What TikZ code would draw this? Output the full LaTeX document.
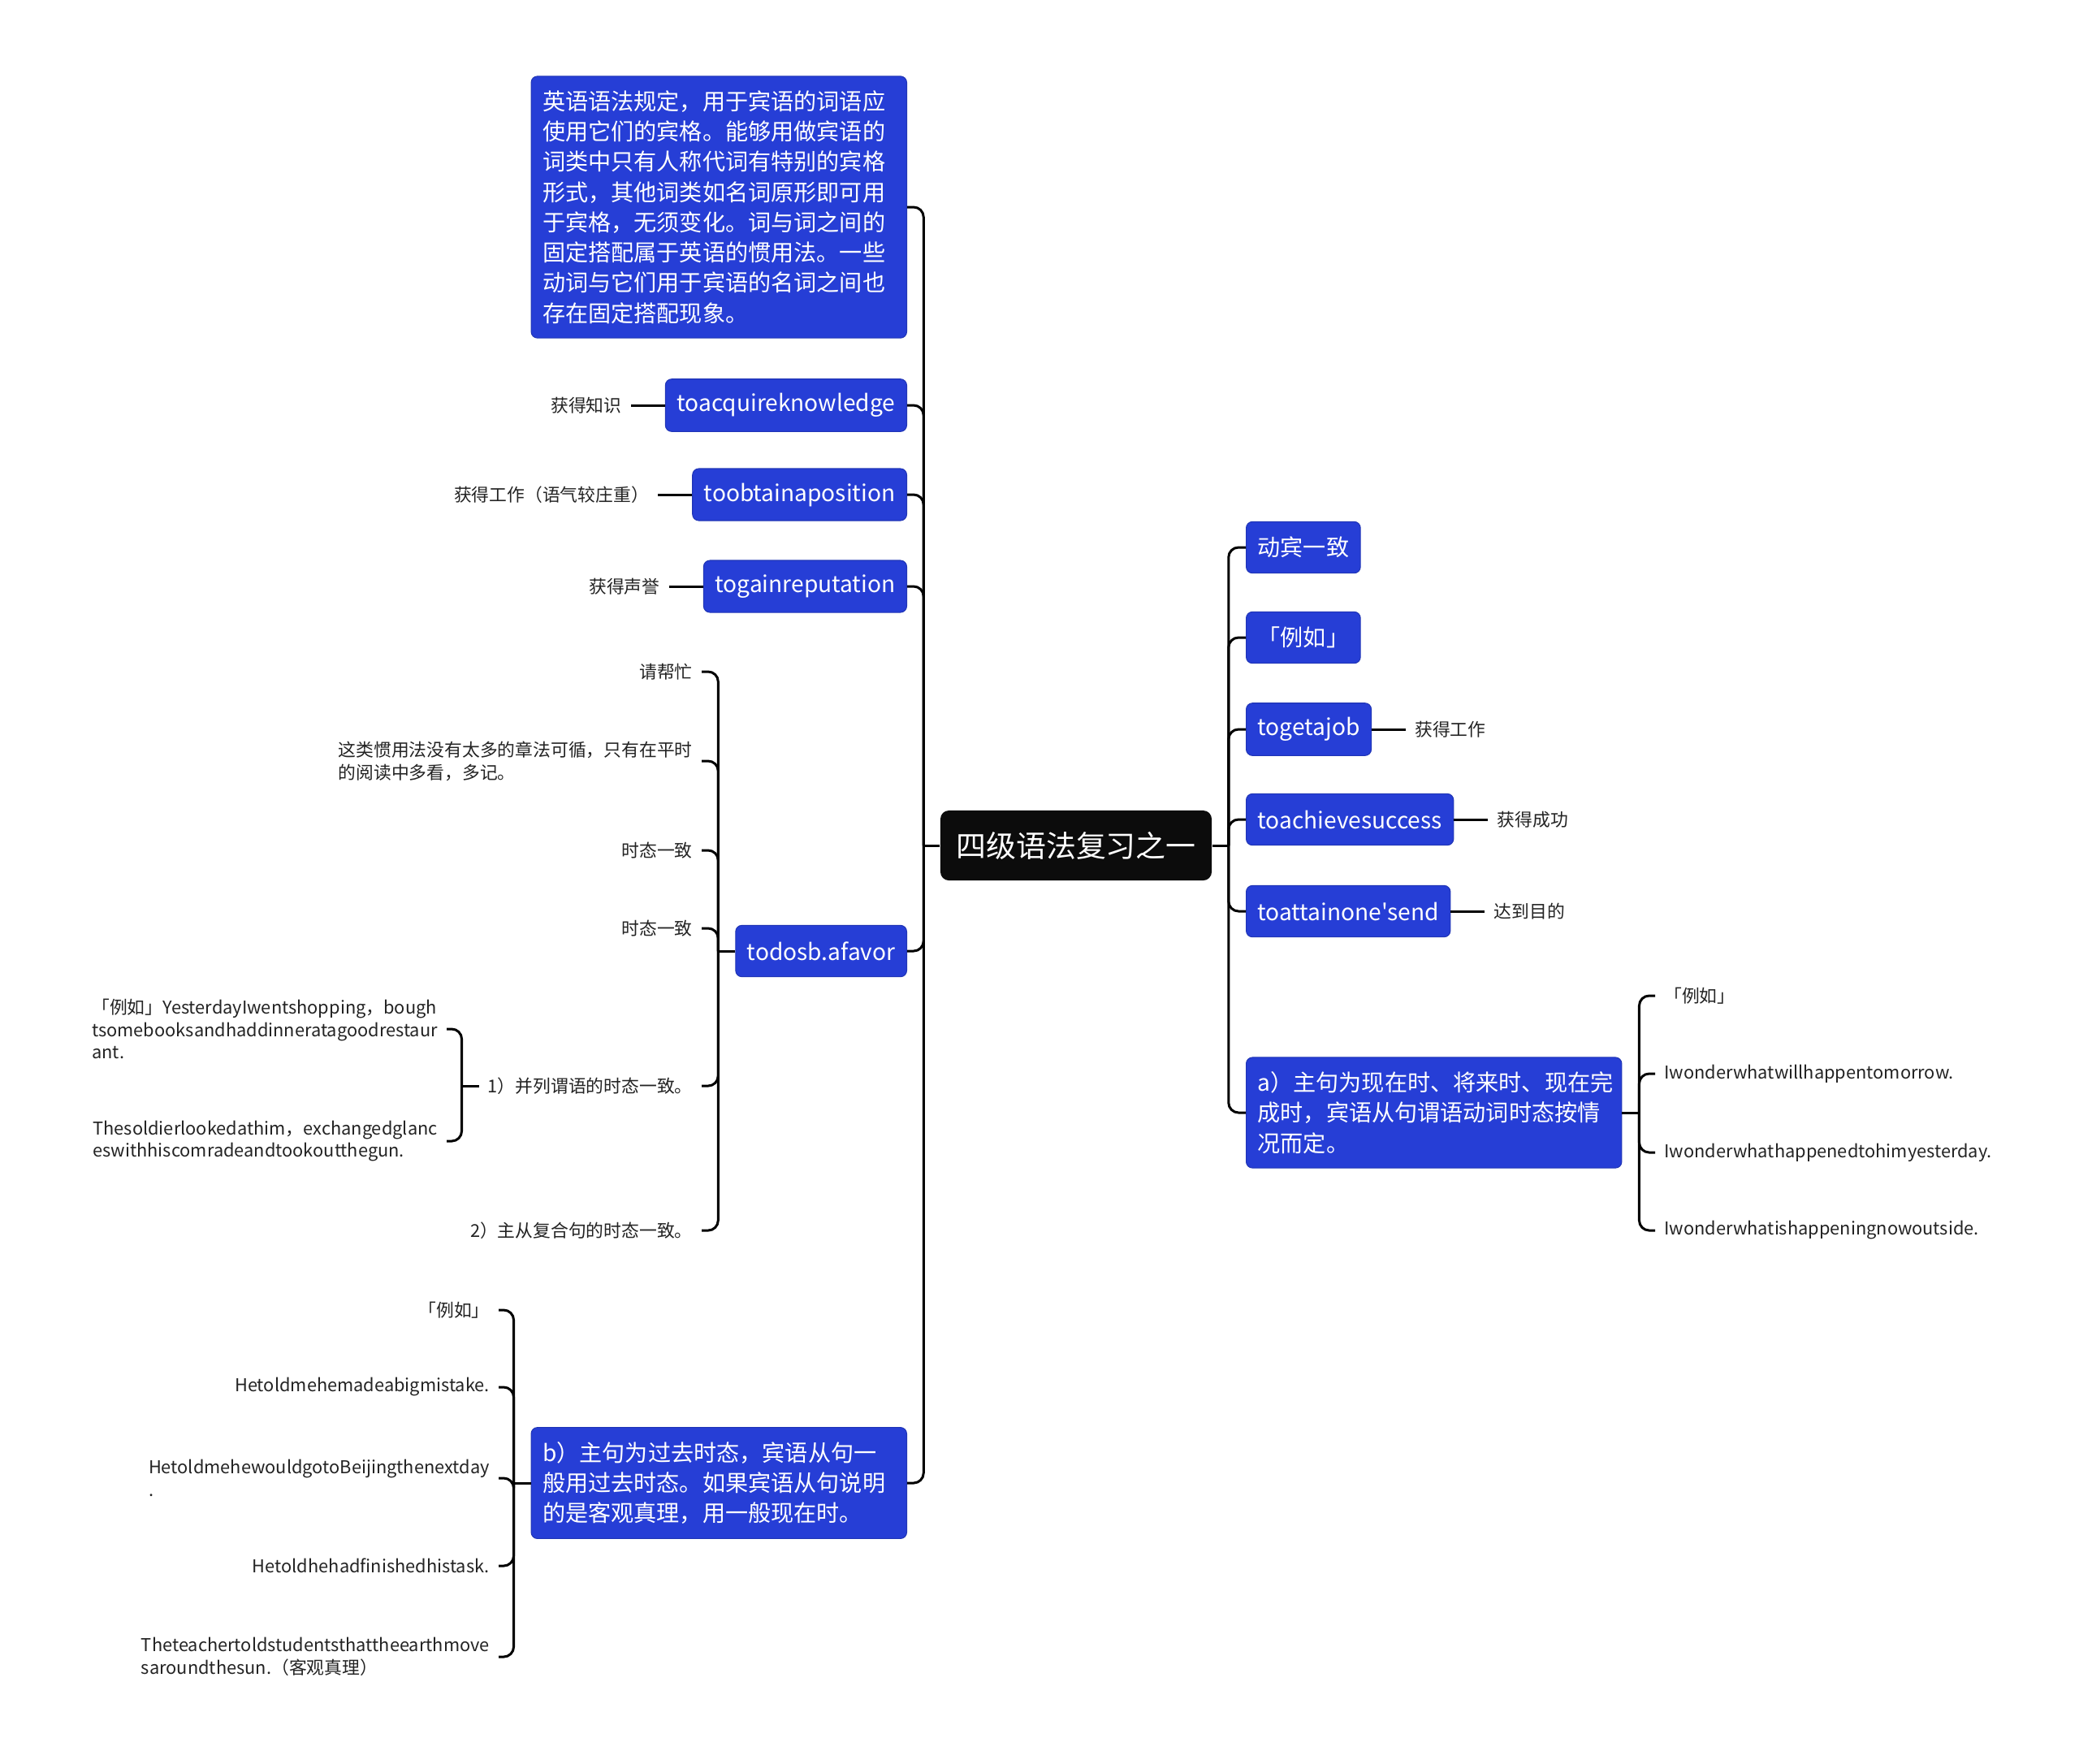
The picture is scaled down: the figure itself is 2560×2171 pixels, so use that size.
\documentclass[tikz,border=0pt]{standalone}
\usepackage{fontspec}
\setmainfont{Noto Sans CJK SC}[Ligatures=TeXOff]
\usepackage{xcolor}
\definecolor{mmblue}{RGB}{38,62,214}
\definecolor{mmdark}{RGB}{12,12,12}
\definecolor{mmtext}{RGB}{35,35,35}
\usetikzlibrary{positioning}

\begin{document}
\begin{tikzpicture}[x=0.01cm, y=-0.01cm,
  hubbox/.style={rectangle, rounded corners=3pt, fill=mmdark, text=white,
              font=\fontsize{10.5}{13}\selectfont, inner xsep=5.5pt, minimum height=24.5pt},
  topic/.style={rectangle, rounded corners=2.2pt, fill=mmblue, draw=mmblue!85!black, line width=0.3pt,
              text=white, font=\fontsize{8}{10.6}\selectfont, inner xsep=4pt, inner ysep=5pt,
              minimum height=18pt, align=left},
  wide/.style={text width=4.34cm},
  leaf/.style={font=\fontsize{6.2}{7.9}\selectfont, text=mmtext, inner sep=3pt, align=left},
  link/.style={line width=0.85pt, rounded corners=3.5pt}
]
\useasboundingbox (0,0) rectangle (2560,2171);

% Root
\node[hubbox] (hub) at (1325,1041) {四级语法复习之一};
\coordinate[left=0.2cm of hub.west] (lt);
\coordinate[right=0.2cm of hub.east] (rt);

% Left topics
\node[topic, wide, anchor=east] (intro) at (1117,255) {英语语法规定，用于宾语的词语应\\使用它们的宾格。能够用做宾语的\\词类中只有人称代词有特别的宾格\\形式，其他词类如名词原形即可用\\于宾格，无须变化。词与词之间的\\固定搭配属于英语的惯用法。一些\\动词与它们用于宾语的名词之间也\\存在固定搭配现象。};
\node[topic, anchor=east] (acq) at (1117,499) {toacquireknowledge};
\node[topic, anchor=east] (obtain) at (1117,609) {toobtainaposition};
\node[topic, anchor=east] (gain) at (1117,722) {togainreputation};
\node[topic, anchor=east] (favor) at (1117,1171) {todosb.afavor};
\node[topic, wide, anchor=east] (past) at (1117,1826) {b）主句为过去时态，宾语从句一\\般用过去时态。如果宾语从句说明\\的是客观真理，用一般现在时。};

\node[leaf, left=0.42cm of acq] (acqnote) {获得知识};
\node[leaf, left=0.42cm of obtain] (obtainnote) {获得工作（语气较庄重）};
\node[leaf, left=0.42cm of gain] (gainnote) {获得声誉};

% Right topics
\node[topic, anchor=west] (agree) at (1534,674) {动宾一致};
\node[topic, anchor=west] (eg) at (1534,785) {「例如」};
\node[topic, anchor=west] (job) at (1534,898) {togetajob};
\node[topic, anchor=west] (succ) at (1534,1009) {toachievesuccess};
\node[topic, anchor=west] (goal) at (1534,1122) {toattainone'send};
\node[topic, wide, anchor=west] (pres) at (1534,1370) {a）主句为现在时、将来时、现在完\\成时，宾语从句谓语动词时态按情\\况而定。};

\node[leaf, right=0.42cm of job] (jobnote) {获得工作};
\node[leaf, right=0.42cm of succ] (succnote) {获得成功};
\node[leaf, right=0.42cm of goal] (goalnote) {达到目的};

% Leaves of todosb.afavor
\node[leaf, anchor=east] (help) at (864,827) {请帮忙};
\node[leaf, anchor=east] (habit) at (864,937) {这类惯用法没有太多的章法可循，只有在平时\\的阅读中多看，多记。};
\node[leaf, anchor=east] (tenseA) at (864,1047) {时态一致};
\node[leaf, anchor=east] (tenseB) at (864,1143) {时态一致};
\node[leaf, anchor=east] (para) at (864,1337) {1）并列谓语的时态一致。};
\node[leaf, anchor=east] (clause) at (864,1515) {2）主从复合句的时态一致。};

\node[leaf, anchor=east] (shop) at (550,1267) {「例如」YesterdayIwentshopping，bough\\tsomebooksandhaddinneratagoodrestaur\\ant.};
\node[leaf, anchor=east] (soldier) at (550,1405) {Thesoldierlookedathim，exchangedglanc\\eswithhiscomradeandtookoutthegun.};

% Leaves of b)
\node[leaf, anchor=east] (pasteg) at (614,1613) {「例如」};
\node[leaf, anchor=east] (mistake) at (614,1708) {Hetoldmehemadeabigmistake.};
\node[leaf, anchor=east] (beijing) at (614,1820) {HetoldmehewouldgotoBeijingthenextday\\.};
\node[leaf, anchor=east] (task) at (614,1928) {Hetoldhehadfinishedhistask.};
\node[leaf, anchor=east] (earth) at (614,2040) {Theteachertoldstudentsthattheearthmove\\saroundthesun.（客观真理）};

% Leaves of a)
\node[leaf, anchor=west] (preseg) at (2038,1226) {「例如」};
\node[leaf, anchor=west] (will) at (2038,1322) {Iwonderwhatwillhappentomorrow.};
\node[leaf, anchor=west] (happened) at (2038,1419) {Iwonderwhathappenedtohimyesterday.};
\node[leaf, anchor=west] (now) at (2038,1515) {Iwonderwhatishappeningnowoutside.};

% Trunks
\draw[link] (hub.west) -- (lt);
\draw[link] (hub.east) -- (rt);
\foreach \n in {intro,acq,obtain,gain,favor,past}
  \draw[link] (lt) |- (\n.east);
\foreach \n in {agree,eg,job,succ,goal,pres}
  \draw[link] (rt) |- (\n.west);

\draw[link] (acq.west) -- (acqnote.east);
\draw[link] (obtain.west) -- (obtainnote.east);
\draw[link] (gain.west) -- (gainnote.east);
\draw[link] (job.east) -- (jobnote.west);
\draw[link] (succ.east) -- (succnote.west);
\draw[link] (goal.east) -- (goalnote.west);

\coordinate[left=0.21cm of favor.west] (ft);
\draw[link] (favor.west) -- (ft);
\foreach \n in {help,habit,tenseA,tenseB,para,clause}
  \draw[link] (ft) |- (\n.east);

\coordinate[left=0.21cm of para.west] (pt);
\draw[link] (para.west) -- (pt);
\foreach \n in {shop,soldier}
  \draw[link] (pt) |- (\n.east);

\coordinate[left=0.21cm of past.west] (bt);
\draw[link] (past.west) -- (bt);
\foreach \n in {pasteg,mistake,beijing,task,earth}
  \draw[link] (bt) |- (\n.east);

\coordinate[right=0.21cm of pres.east] (at);
\draw[link] (pres.east) -- (at);
\foreach \n in {preseg,will,happened,now}
  \draw[link] (at) |- (\n.west);
\end{tikzpicture}
\end{document}
